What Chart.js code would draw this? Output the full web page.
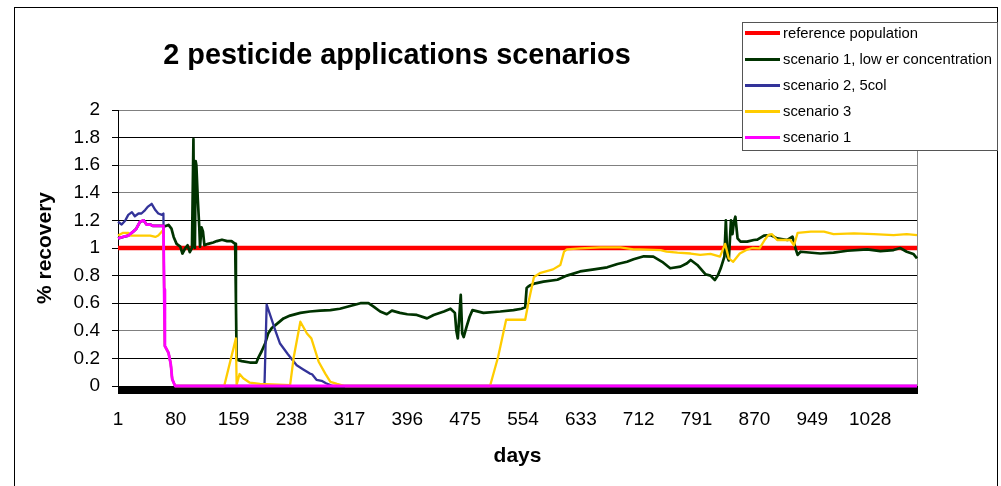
<!DOCTYPE html>
<html>
<head>
<meta charset="utf-8">
<title>2 pesticide applications scenarios</title>
<script src="https://cdn.jsdelivr.net/npm/chart.js@4.4.1/dist/chart.umd.min.js"></script>
<style>
  body { margin: 0; background: #fff; font-family: 'Liberation Sans', Arial, sans-serif; }
  #wrap { position: relative; width: 1001px; height: 486px; overflow: hidden; }
  #frame { position: absolute; left: 14px; top: 7px; width: 984px; height: 520px; border: 1px solid #000; box-sizing: border-box; }
  #chart { position: absolute; left: 0; top: 0; }
  #chartTitle { position: absolute; left: 0; top: 40px; width: 794px; text-align: center; font: bold 28.8px 'Liberation Sans', Arial, sans-serif; line-height: 28px; color: #000; white-space: nowrap; }
  #legendBox { position: absolute; left: 742px; top: 22px; width: 256px; height: 129px; box-sizing: border-box; border: 1px solid #555; background: #fff; }
  .lg-row { position: absolute; left: 0; height: 26px; line-height: 26px; font-size: 14.8px; color: #000; white-space: nowrap; }
  .lg-line { position: absolute; left: 2px; width: 35px; }
  .lg-text { position: absolute; left: 40px; top: 0; }
</style>
</head>
<body>
<div id="wrap">
  <div id="frame"></div>
  <canvas id="chart" width="1001" height="486"></canvas>
  <div id="chartTitle">2 pesticide applications scenarios</div>
  <div id="legendBox"></div>
</div>
<script>
/**
 * DATA ([day, % recovery])
 */
const lastDay = 1092;
const dayTicks = [1, 80, 159, 238, 317, 396, 475, 554, 633, 712, 791, 870, 949, 1028];
const recoveryTicks = [0, 0.2, 0.4, 0.6, 0.8, 1, 1.2, 1.4, 1.6, 1.8, 2];

const referencePopulation = [[1, 1], [1092, 1]];

const scenario1Lower = [
  [1, 1.07], [8, 1.08], [15, 1.09], [22, 1.12], [26, 1.14], [31, 1.19], [36, 1.20], [40, 1.17],
  [45, 1.17], [49, 1.16], [56, 1.16], [63, 1.16], [64, 1.155], [70, 1.167], [74, 1.14], [77, 1.08],
  [81, 1.03], [86, 1.01], [89, 0.96], [93, 1.00], [96, 1.02], [99, 0.97], [102, 1.00], [104, 1.79],
  [105, 1.02], [106, 1.00], [107, 1.63], [108, 1.60], [110, 1.35], [112, 1.15], [113, 1.01],
  [115, 1.15], [117, 1.12], [119, 1.02], [124, 1.03], [131, 1.04], [136, 1.05], [143, 1.06],
  [150, 1.05], [156, 1.05], [161, 1.03], [162, 0.62], [163, 0.19], [170, 0.18], [181, 0.17],
  [190, 0.17], [193, 0.21], [197, 0.25], [202, 0.31], [206, 0.38], [211, 0.42], [218, 0.45],
  [227, 0.49], [236, 0.51], [250, 0.53], [263, 0.54], [277, 0.546], [291, 0.55], [304, 0.56],
  [318, 0.58], [332, 0.60], [343, 0.60], [350, 0.575], [359, 0.54], [368, 0.52], [375, 0.546],
  [386, 0.53], [396, 0.52], [409, 0.515], [423, 0.49], [432, 0.515], [446, 0.54], [455, 0.56],
  [461, 0.53], [463, 0.40], [465, 0.345], [467, 0.50], [469, 0.66], [471, 0.38], [473, 0.355],
  [477, 0.43], [481, 0.50], [485, 0.55], [500, 0.53], [523, 0.54], [541, 0.55], [552, 0.56],
  [557, 0.57], [559, 0.71], [561, 0.72], [564, 0.73], [571, 0.744], [582, 0.756], [601, 0.77],
  [614, 0.80], [632, 0.83], [651, 0.845], [669, 0.86], [683, 0.884], [696, 0.90], [705, 0.918],
  [719, 0.94], [732, 0.937], [744, 0.90], [755, 0.853], [769, 0.865], [778, 0.89], [783, 0.913],
  [792, 0.877], [803, 0.81], [810, 0.80], [816, 0.768], [820, 0.80], [824, 0.853], [829, 0.937],
  [831, 1.20], [833, 0.937], [835, 0.91], [838, 1.20], [840, 1.10], [842, 1.19], [844, 1.227],
  [847, 1.07], [851, 1.046], [860, 1.046], [869, 1.058], [874, 1.06], [883, 1.09], [892, 1.094],
  [901, 1.07], [915, 1.058], [922, 1.082], [926, 0.998], [929, 0.95], [933, 0.973], [960, 0.96],
  [978, 0.966], [997, 0.98], [1024, 0.99], [1042, 0.978], [1060, 0.985], [1069, 1.00],
  [1078, 0.973], [1087, 0.957], [1092, 0.925]
];

const scenario2 = [
  [1, 1.19], [6, 1.17], [11, 1.20], [15, 1.24], [20, 1.26], [24, 1.23], [29, 1.25], [33, 1.25],
  [38, 1.275], [42, 1.30], [47, 1.32], [52, 1.275], [56, 1.25], [61, 1.24], [63, 1.25], [64, 0.70],
  [65, 0.29], [70, 0.24], [73, 0.16], [75, 0.05], [79, 0], [201, 0], [204, 0.59], [211, 0.48],
  [216, 0.40], [222, 0.31], [233, 0.23], [239, 0.19], [245, 0.15], [254, 0.12], [263, 0.09],
  [266, 0.085], [272, 0.045], [279, 0.038], [285, 0.02], [292, 0.005], [295, 0], [1092, 0]
];

const scenario3 = [
  [1, 1.09], [8, 1.11], [15, 1.11], [18, 1.09], [24, 1.09], [36, 1.09], [45, 1.09], [52, 1.08],
  [56, 1.09], [61, 1.12], [63, 1.13], [64, 0.70], [65, 0.29], [70, 0.24], [73, 0.16], [75, 0.05],
  [79, 0], [146, 0], [162, 0.345], [163, 0.01], [167, 0.087], [172, 0.056], [181, 0.024],
  [195, 0.015], [236, 0.007], [241, 0.21], [250, 0.466], [259, 0.38], [265, 0.345], [275, 0.176],
  [284, 0.09], [291, 0.03], [300, 0.015], [311, 0], [509, 0], [520, 0.21], [531, 0.48], [557, 0.48],
  [562, 0.62], [569, 0.79], [578, 0.82], [595, 0.845], [605, 0.877], [610, 0.973], [614, 0.99],
  [632, 0.997], [660, 1.005], [687, 1.005], [705, 0.99], [714, 0.99], [742, 0.985], [750, 0.973],
  [765, 0.966], [783, 0.96], [796, 0.95], [810, 0.957], [823, 0.937], [830, 1.03], [835, 0.925],
  [841, 0.90], [850, 0.96], [859, 0.986], [867, 1.00], [877, 0.998], [884, 1.058], [889, 1.094],
  [894, 1.10], [901, 1.058], [919, 1.058], [924, 1.02], [929, 1.11], [947, 1.118], [965, 1.118],
  [978, 1.10], [1006, 1.106], [1033, 1.10], [1060, 1.094], [1078, 1.10], [1092, 1.094]
];

const scenario1 = [
  [1, 1.07], [8, 1.08], [15, 1.09], [22, 1.12], [26, 1.14], [31, 1.19], [36, 1.20], [40, 1.17],
  [45, 1.17], [49, 1.16], [56, 1.16], [63, 1.16], [64, 0.70], [65, 0.29], [70, 0.24], [73, 0.16],
  [75, 0.05], [79, 0], [1092, 0]
];

const toPoints = arr => arr.map(p => ({ x: p[0], y: p[1] }));
const FONT = "'Liberation Sans', Arial, sans-serif";

/**
 * PLUGIN: per-day tick band under the axis + right plot border
 */
const excelDecor = {
  id: 'excelDecor',
  beforeDatasetsDraw(chart) {
    const { ctx, chartArea } = chart;
    const xs = chart.scales.x;
    const y0 = Math.round(chartArea.bottom);
    ctx.save();
    ctx.strokeStyle = '#000';
    ctx.lineWidth = 1;
    ctx.beginPath();
    for (let d = 1; d <= lastDay; d++) {
      const px = Math.round(xs.getPixelForValue(d)) + 0.5;
      ctx.moveTo(px, y0);
      ctx.lineTo(px, y0 + 8);
    }
    ctx.stroke();
    ctx.strokeStyle = '#888';
    ctx.beginPath();
    ctx.moveTo(Math.round(chartArea.right) + 0.5, chartArea.top);
    ctx.lineTo(Math.round(chartArea.right) + 0.5, chartArea.bottom);
    ctx.stroke();
    ctx.restore();
  }
};

const grayRows = [2, 1.6, 1.4, 0.4];

const chart = new Chart(document.getElementById('chart'), {
  type: 'line',
  data: {
    datasets: [
      { label: 'reference population', data: toPoints(referencePopulation), borderColor: '#FF0000', borderWidth: 4.5, order: 5 },
      { label: 'scenario 1, low er concentration', data: toPoints(scenario1Lower), borderColor: '#003300', borderWidth: 2.7, order: 4 },
      { label: 'scenario 2, 5col', data: toPoints(scenario2), borderColor: '#333399', borderWidth: 2.3, order: 3 },
      { label: 'scenario 3', data: toPoints(scenario3), borderColor: '#FFCC00', borderWidth: 2.3, order: 2 },
      { label: 'scenario 1', data: toPoints(scenario1), borderColor: '#FF00FF', borderWidth: 2.8, order: 1 }
    ]
  },
  options: {
    responsive: false,
    animation: false,
    events: [],
    datasets: { line: { clip: 4 } },
    elements: { point: { radius: 0 }, line: { tension: 0, borderJoinStyle: 'round' } },
    layout: { padding: { top: 110, right: 84, left: 0, bottom: 0 } },
    plugins: { legend: { display: false }, title: { display: false }, tooltip: { enabled: false } },
    scales: {
      x: {
        type: 'linear',
        min: 1,
        max: lastDay,
        afterBuildTicks: axis => { axis.ticks = dayTicks.map(v => ({ value: v })); },
        afterFit: axis => { axis.height = 100; },
        grid: { display: false, drawTicks: false, tickLength: 0 },
        border: { display: true, color: '#000', width: 1 },
        ticks: {
          autoSkip: false, maxRotation: 0, padding: 22, color: '#000',
          font: { family: FONT, size: 19 },
          callback: v => String(v)
        },
        title: { display: true, text: 'days', color: '#000', font: { family: FONT, size: 21, weight: 'bold' }, padding: { top: 0, bottom: 17 } }
      },
      y: {
        min: 0,
        max: 2,
        afterBuildTicks: axis => { axis.ticks = recoveryTicks.map(v => ({ value: v })); },
        afterFit: axis => { axis.width = 118; },
        grid: {
          color: c => grayRows.includes(c.tick && c.tick.value) ? '#808080' : '#000',
          lineWidth: 1, drawTicks: true, tickLength: 6, tickColor: '#000'
        },
        border: { display: true, color: '#000', width: 1 },
        ticks: {
          padding: 12, color: '#000',
          font: { family: FONT, size: 19 },
          callback: v => String(+v.toFixed(1))
        },
        title: { display: true, text: '% recovery', color: '#000', font: { family: FONT, size: 21, weight: 'bold' }, padding: { top: 33, bottom: 0 } }
      }
    }
  },
  plugins: [excelDecor]
});

/**
 * LEGEND (HTML, built from the chart's datasets)
 */
function buildLegend() {
  const box = document.getElementById('legendBox');
  box.innerHTML = '';
  chart.data.datasets.forEach((ds, i) => {
    const row = document.createElement('div');
    row.className = 'lg-row';
    row.style.top = (i * 26 - 3) + 'px';
    const h = i === 0 ? 4 : 3;
    row.innerHTML = `<span class="lg-line" style="top:${13 - h / 2}px;height:${h}px;background:${ds.borderColor}"></span>` +
                    `<span class="lg-text">${ds.label}</span>`;
    box.appendChild(row);
  });
}
buildLegend();
</script>
</body>
</html>
